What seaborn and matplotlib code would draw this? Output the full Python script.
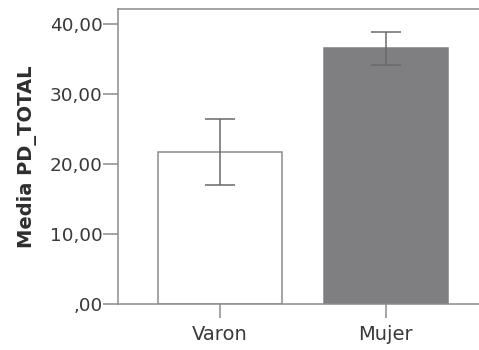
import matplotlib
matplotlib.use("Agg")
import matplotlib.pyplot as plt
import seaborn as sns
import pandas as pd

categories = ["Varon", "Mujer"]
means = [21.7, 36.5]
err_low = [17.0, 34.1]
err_high = [26.4, 38.8]
yticks = [0, 10, 20, 30, 40]
ytick_labels = [",00", "10,00", "20,00", "30,00", "40,00"]
ylabel = "Media PD_TOTAL"

sns.set_theme(style="white")
plt.rcParams['font.family'] = ['DejaVu Sans']

df = pd.DataFrame({"grupo": categories, "media": means})

fig = plt.figure(figsize=(4.79, 3.5), dpi=100)
ax = fig.add_axes([118/479, 1 - 304/350, (479 - 118)/479, (304 - 9)/350])

line_col = "#8c8c8c"
sns.barplot(data=df, x="grupo", y="media", order=categories, ax=ax,
            palette=["#ffffff", "#7e7f83"], hue="grupo", legend=False,
            width=0.75, errorbar=None, linewidth=1.1, edgecolor=line_col)
ax.patches[1].set_edgecolor("#7e7f83")

xs = list(range(len(categories)))
lower = [m - l for m, l in zip(means, err_low)]
upper = [h - m for m, h in zip(means, err_high)]
ax.errorbar(xs, means, yerr=[lower, upper], fmt="none", ecolor="#6a6a6a",
            elinewidth=1.1, capsize=10.5, capthick=1.1)

ax.set_xlim(-0.614, 1.562)
ax.set_ylim(0, 42.14)
ax.set_yticks(yticks)
ax.set_yticklabels(ytick_labels)
ax.set_xlabel("")
ax.set_ylabel(ylabel, fontsize=14, fontweight="bold", color="#2e2e2e", labelpad=9)

for s in ["left", "bottom", "top"]:
    ax.spines[s].set_visible(True)
    ax.spines[s].set_color(line_col)
    ax.spines[s].set_linewidth(1.1)
ax.spines["right"].set_visible(False)

ax.tick_params(axis="y", length=10.5, width=1.1, color=line_col, pad=0.5,
               labelsize=13.3, labelcolor="#3a3a3a", left=True)
ax.tick_params(axis="x", length=10, width=1.1, color=line_col, pad=5,
               labelsize=14, labelcolor="#3a3a3a", bottom=True)
ax.set_facecolor("white")
ax.grid(False)

fig.savefig("out.png", dpi=100)
